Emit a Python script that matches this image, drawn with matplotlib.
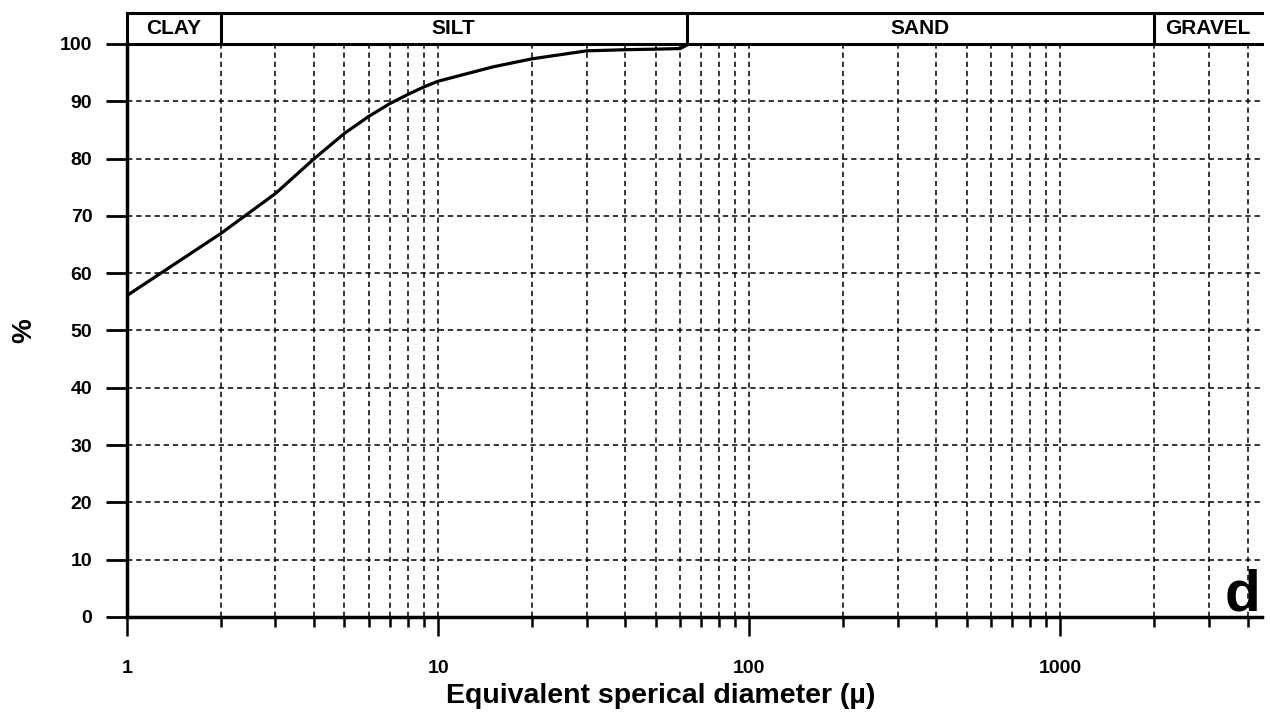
import matplotlib
matplotlib.use("Agg")
from matplotlib import pyplot as plt
from matplotlib.ticker import FixedLocator, NullFormatter
import numpy as np

plt.rcParams['font.family'] = ['Liberation Sans', 'DejaVu Sans']

# Kornsummenkurve (Durchmesser in µ, Anteil in %)
diameter = [1, 2, 3, 4, 5, 6, 7, 8, 9, 10, 15, 20, 30, 40, 50, 60, 64]
percent = [56.1, 66.9, 73.9, 80.0, 84.4, 87.4, 89.6, 91.2, 92.5, 93.5, 96.0, 97.4, 98.8, 99.0, 99.1, 99.2, 100.0]

# Kornklassen oben im Kopf
class_names = ["CLAY", "SILT", "SAND", "GRAVEL"]
class_bounds = [1, 2, 63, 2000, 4450]

major_ticks = [1, 10, 100, 1000]
minor_ticks = [m * d for d in [1, 10, 100, 1000] for m in range(2, 10) if m * d < 4450]
y_ticks = list(range(0, 101, 10))

fig = plt.figure(figsize=(12.7, 7.15), dpi=100)
ax = fig.add_axes([0.1, 0.1371, 0.8937, 0.8014])
head = fig.add_axes([0.1, 0.9385, 0.8937, 0.0433], sharex=ax)

ax.set_xscale('log')
ax.set_xlim(1, 4450)
ax.set_ylim(0, 100)

dash = (0, (3.5, 2.5))
for x in minor_ticks + major_ticks[1:]:
    ax.axvline(x, color='black', linewidth=1.1, linestyle=dash, zorder=1)
for y in y_ticks[1:-1]:
    ax.axhline(y, color='black', linewidth=1.1, linestyle=dash, zorder=1)

ax.plot(diameter, percent, color='black', linewidth=2.3, zorder=3)

ax.spines['right'].set_visible(False)
ax.spines['top'].set_linewidth(2.2)
ax.spines['left'].set_linewidth(2.5)
ax.spines['bottom'].set_linewidth(2.5)

ax.xaxis.set_major_locator(FixedLocator(major_ticks))
ax.xaxis.set_minor_locator(FixedLocator(minor_ticks))
ax.xaxis.set_minor_formatter(NullFormatter())
ax.set_xticklabels([str(t) for t in major_ticks])
ax.set_yticks(y_ticks)
ax.tick_params(axis='x', which='major', length=14, width=1.8, pad=17)
ax.tick_params(axis='x', which='minor', length=7, width=1.8)
ax.tick_params(axis='y', length=15, width=2, pad=10)
for lab in ax.get_xticklabels() + ax.get_yticklabels():
    lab.set_fontsize(14)
    lab.set_fontweight('bold')

ax.set_xlabel("Equivalent sperical diameter (µ)", fontsize=20.5, fontweight='bold')
ax.xaxis.set_label_coords(0.47, -0.116)
ax.set_ylabel("%", fontsize=20, fontweight='bold', labelpad=16)

ax.text(0.999, 0.012, "d", transform=ax.transAxes, fontsize=42, fontweight='bold',
        ha='right', va='baseline', zorder=4)

# Kopfleiste mit Kornklassen
head.set_ylim(0, 1)
head.axis('off')
head.plot([1, 4450], [1, 1], color='black', linewidth=2.2, clip_on=False)
for b in class_bounds[:-1]:
    head.plot([b, b], [0, 1], color='black', linewidth=2.2, clip_on=False)
for name, a, b in zip(class_names, class_bounds[:-1], class_bounds[1:]):
    head.text(np.sqrt(a * b), 0.5, name, ha='center', va='center',
              fontsize=15, fontweight='bold')

fig.savefig("out.png", dpi=100)
